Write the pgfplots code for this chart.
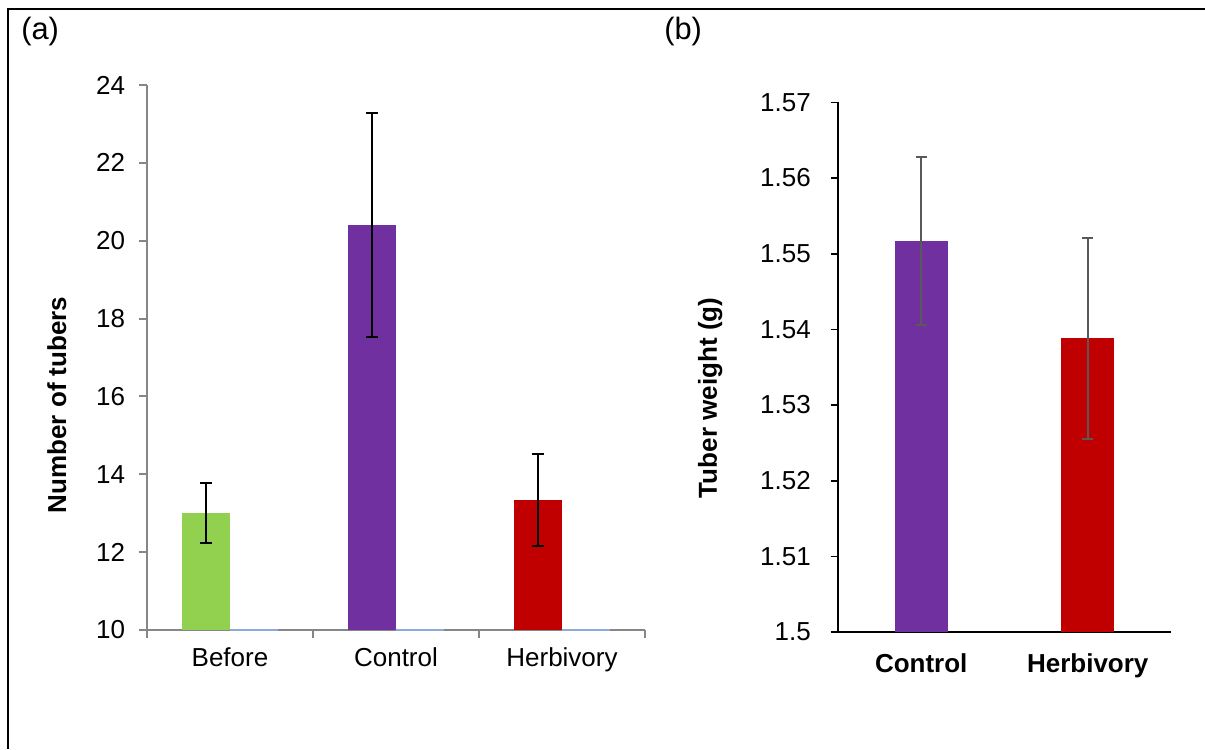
\documentclass[border=0pt]{standalone}
\usepackage{fontspec}
\setmainfont{Liberation Sans}
\usepackage{pgfplots}
\pgfplotsset{compat=1.18}
\definecolor{cgreen}{HTML}{92D050}
\definecolor{cpurple}{HTML}{7030A0}
\definecolor{cred}{HTML}{C00000}
\definecolor{axisgray}{HTML}{868686}
\definecolor{errgray}{HTML}{595959}
\definecolor{lineblue}{HTML}{8EA9DB}
\newcommand{\lbl}{\fontsize{15.6}{18}\selectfont}
\begin{document}
\begin{tikzpicture}[x=0.6pt,y=0.6pt]
\useasboundingbox (0,0) rectangle (1205,749);
\draw[line width=1.2pt] (8,0) -- (8,740) -- (1205,740);
\node[anchor=west,inner sep=0pt,font=\fontsize{18.5}{22}\selectfont] at (21,717) {(a)};
\node[anchor=west,inner sep=0pt,font=\fontsize{18.5}{22}\selectfont] at (664,717) {(b)};

% panel (a): number of tubers; bars sit left of the category centre
\begin{axis}[
  at={(88.2pt,71.4pt)}, anchor=south west, scale only axis,
  width=298.8pt, height=327pt,
  xmin=-0.5, xmax=2.5, ymin=10, ymax=24,
  axis x line*=bottom, axis y line*=left,
  axis line style={draw=axisgray,line width=1.2pt},
  tick style={draw=axisgray,line width=1.2pt},
  tick align=outside, major tick length=4.8pt,
  ytick={10,12,...,24},
  yticklabel style={xshift=-4.8pt},
  xtick={-0.5,0.5,1.5,2.5}, xticklabels={},
  extra x ticks={0,1,2},
  extra x tick labels={Before,Control,Herbivory},
  extra x tick style={xtick style={draw=none}},
  tick label style={font=\lbl},
  xticklabel style={yshift=-2pt},
  /pgf/number format/assume math mode=true,
  ylabel={\bfseries Number of tubers},
  ylabel style={font=\lbl,at={(axis description cs:-0.181,0.413)},anchor=center},
  every axis plot/.append style={ybar,bar width=28.8pt,draw=none},
  error bars/y dir=both, error bars/y explicit,
  error bars/error bar style={line width=1.2pt,black},
  error bars/error mark options={rotate=90,line width=1.2pt,black,mark size=3.6pt},
]
\addplot[fill=cgreen]  coordinates {(-0.1446,13.00) +- (0,0.77)};
\addplot[fill=cpurple] coordinates {(0.8554,20.40) +- (0,2.87)};
\addplot[fill=cred]    coordinates {(1.8554,13.34) +- (0,1.18)};
\addplot[fill=none,draw=lineblue,line width=0.8pt]
  coordinates {(0.1446,10) (1.1446,10) (2.1446,10)};
\end{axis}

% panel (b): tuber weight
\begin{axis}[
  at={(502.8pt,70.2pt)}, anchor=south west, scale only axis,
  width=199.8pt, height=317.8pt,
  xmin=-0.5, xmax=1.5, ymin=1.5, ymax=1.57,
  axis x line*=bottom, axis y line*=left,
  axis line style={draw=black,line width=1.2pt},
  ytick style={draw=black,line width=1pt},
  xtick style={draw=none},
  tick align=outside, major tick length=4.4pt,
  ytick={1.5,1.51,1.52,1.53,1.54,1.55,1.56,1.57},
  yticklabels={1.5,1.51,1.52,1.53,1.54,1.55,1.56,1.57},
  yticklabel style={xshift=-8.4pt},
  xtick={0,1},
  xticklabels={\bfseries Control,\bfseries Herbivory},
  tick label style={font=\lbl},
  xticklabel style={yshift=-5pt},
  ylabel={\bfseries Tuber weight (g)},
  ylabel style={font=\lbl,at={(axis description cs:-0.384,0.442)},anchor=center},
  every axis plot/.append style={ybar,bar width=31.6pt,draw=none},
  error bars/y dir=both, error bars/y explicit,
  error bars/error bar style={line width=1.1pt,errgray},
  error bars/error mark options={rotate=90,line width=1.1pt,errgray,mark size=3.3pt},
]
\addplot[fill=cpurple] coordinates {(0,1.5517) +- (0,0.0111)};
\addplot[fill=cred]    coordinates {(1,1.5388) +- (0,0.0133)};
\end{axis}
\end{tikzpicture}
\end{document}
